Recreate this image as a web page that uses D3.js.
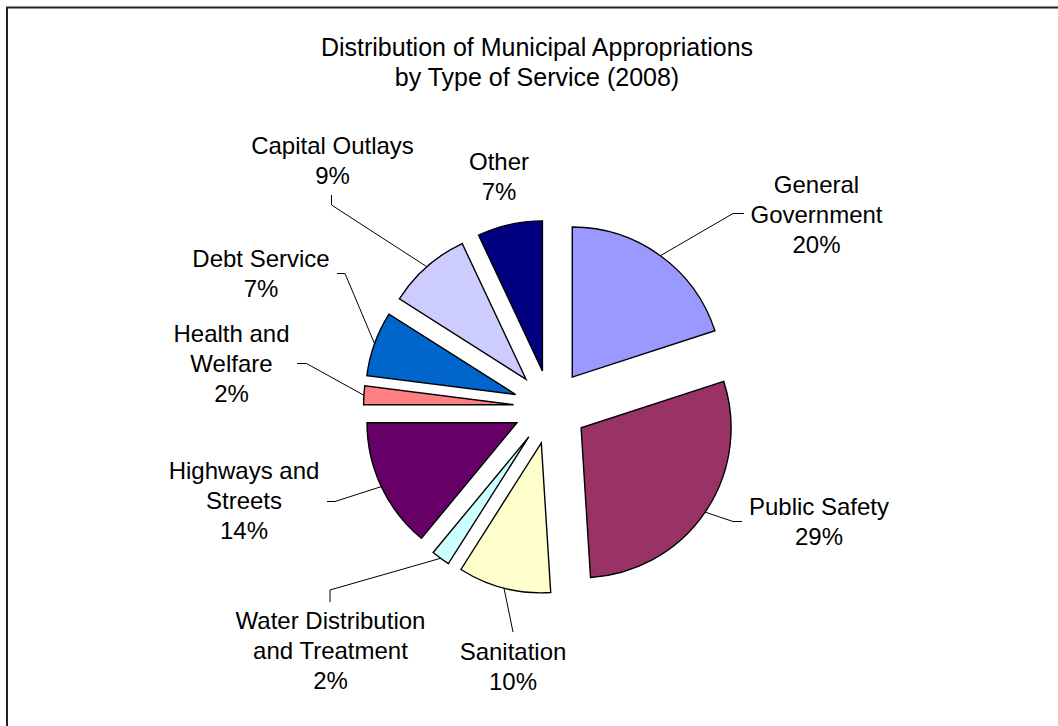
<!DOCTYPE html>
<html>
<head>
<meta charset="utf-8">
<script src="https://cdn.jsdelivr.net/npm/d3@7"></script>
<style>
  html, body { margin: 0; padding: 0; background: #fff; }
  svg { display: block; }
  text { font-family: "Liberation Sans", Arial, sans-serif; fill: #000; }
</style>
</head>
<body>
<svg id="chart" width="1058" height="726"></svg>
<script>
// Municipal appropriations by type of service, 2008 (percent of total)
const categories = [
  "General Government", "Public Safety", "Sanitation",
  "Water Distribution and Treatment", "Highways and Streets",
  "Health and Welfare", "Debt Service", "Capital Outlays", "Other"
];
const shares = [20, 29, 10, 2, 14, 2, 7, 9, 7];
const labelLines = [
  ["General", "Government"], ["Public Safety"], ["Sanitation"],
  ["Water Distribution", "and Treatment"], ["Highways and", "Streets"],
  ["Health and", "Welfare"], ["Debt Service"], ["Capital Outlays"], ["Other"]
];
const sliceColors = [
  "#9999FF", "#993366", "#FFFFCC", "#CCFFFF", "#660066",
  "#FF8080", "#0066CC", "#CCCCFF", "#000080"
];
const titleLines = ["Distribution of Municipal Appropriations", "by Type of Service (2008)"];

// Label placement: first baseline and leader-line bend points
const labelLayout = [
  { x: 816.5, y: 193,   leader: [[733, 213.5], [744, 213.5]] },
  { x: 819,   y: 515,   leader: [[733, 521.5], [742, 521.5]] },
  { x: 513,   y: 660,   leader: [[513, 632]] },
  { x: 330.5, y: 629,   leader: [[330, 590], [330, 602]] },
  { x: 244,   y: 478.5, leader: [[335, 501.5], [327, 501.5]] },
  { x: 231.5, y: 342,   leader: [[306.5, 363.5], [297, 363.5]] },
  { x: 261,   y: 267,   leader: [[345, 273.5], [337, 273.5]] },
  { x: 332.5, y: 153.5, leader: [[331.5, 205], [331.5, 195]] },
  { x: 499,   y: 170,   leader: null }
];

const cx = 550.5, cy = 407, radius = 150, explode = 37, lineH = 30;

const svg = d3.select("#chart");

// chart frame (runs past the right and bottom edges)
svg.append("rect")
  .attr("x", 7).attr("y", 7.5)
  .attr("width", 1200).attr("height", 900)
  .attr("fill", "none").attr("stroke", "#222").attr("stroke-width", 2);

// title
svg.append("text")
  .attr("x", 537).attr("y", 56)
  .attr("text-anchor", "middle")
  .style("font-size", "25px")
  .selectAll("tspan").data(titleLines).join("tspan")
  .attr("x", 537).attr("dy", (d, i) => i ? 30 : 0)
  .text(d => d);

const data = categories.map((c, i) => ({ name: c, value: shares[i], i }));

const pie = d3.pie().sort(null).value(d => d.value).startAngle(0).endAngle(2 * Math.PI);
const arcs = pie(data);
const arc = d3.arc().innerRadius(0).outerRadius(radius);

const g = svg.append("g").attr("transform", `translate(${cx},${cy})`);

const offset = a => {
  const m = (a.startAngle + a.endAngle) / 2;
  return [explode * Math.sin(m), -explode * Math.cos(m)];
};

// slices, each pushed out along its mid-angle
g.selectAll("path.slice").data(arcs).join("path")
  .attr("class", "slice")
  .attr("d", arc)
  .attr("transform", d => `translate(${offset(d)})`)
  .attr("fill", d => sliceColors[d.data.i])
  .attr("stroke", "#000")
  .attr("stroke-width", 1.4)
  .attr("stroke-linejoin", "miter");

// leader lines from the slice rim to each label
const rimPoint = a => {
  const m = (a.startAngle + a.endAngle) / 2;
  const [ox, oy] = offset(a);
  return [cx + ox + radius * Math.sin(m), cy + oy - radius * Math.cos(m)];
};

const line = d3.line();
svg.selectAll("path.leader").data(arcs.filter(a => labelLayout[a.data.i].leader)).join("path")
  .attr("class", "leader")
  .attr("d", a => line([rimPoint(a), ...labelLayout[a.data.i].leader]))
  .attr("fill", "none")
  .attr("stroke", "#000")
  .attr("stroke-width", 1);

// labels: name lines followed by the rounded percentage
const labels = svg.selectAll("text.lbl").data(arcs).join("text")
  .attr("class", "lbl")
  .attr("text-anchor", "middle")
  .style("font-size", "24px");

labels.each(function (a) {
  const L = labelLayout[a.data.i];
  const lines = [...labelLines[a.data.i], d3.format(".0f")(a.data.value) + "%"];
  d3.select(this).selectAll("tspan").data(lines).join("tspan")
    .attr("x", L.x)
    .attr("y", (d, k) => L.y + k * lineH)
    .text(d => d);
});
</script>
</body>
</html>
